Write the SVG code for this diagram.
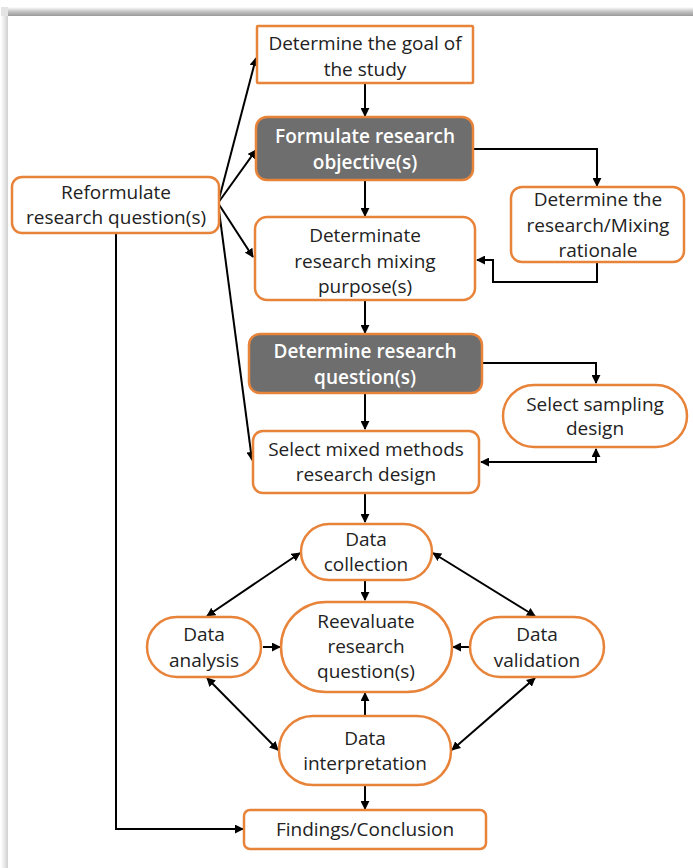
<svg xmlns="http://www.w3.org/2000/svg" width="693" height="868" viewBox="0 0 693 868">
  <style>
    .box { fill: #ffffff; stroke: #E8833A; stroke-width: 2.5; }
    .dark { fill: #6E6E6E; stroke: #E8833A; stroke-width: 2.5; }
    .lbl { font-family: "Open Sans", "Noto Sans", "Liberation Sans", sans-serif; font-size: 19px; fill: #222222; text-anchor: middle; }
    .lbl-w { font-family: "Open Sans", "Noto Sans", "Liberation Sans", sans-serif; font-size: 19px; font-weight: 600; fill: #ffffff; text-anchor: middle; }
    .edge { fill: none; stroke: #000000; stroke-width: 2; }
  </style>
  <defs>
    <marker id="arrow" viewBox="0 0 10 10" refX="9" refY="5" markerWidth="9" markerHeight="9" markerUnits="userSpaceOnUse" orient="auto-start-reverse">
      <path d="M0,0 L10,5 L0,10 z" fill="#000000"/>
    </marker>
    <linearGradient id="shadeTop" x1="0" y1="0" x2="0" y2="1">
      <stop offset="0" stop-color="#ffffff"/>
      <stop offset="0.5" stop-color="#c4c4c4"/>
      <stop offset="1" stop-color="#999999"/>
    </linearGradient>
    <linearGradient id="shadeLeft" x1="0" y1="0" x2="1" y2="0">
      <stop offset="0" stop-color="#ffffff"/>
      <stop offset="1" stop-color="#d0d0d0"/>
    </linearGradient>
  </defs>

  <!-- page background with drop shadow -->
  <rect x="0" y="0" width="693" height="868" fill="#ffffff"/>
  <rect x="8" y="7" width="685" height="9" fill="url(#shadeTop)"/>
  <rect x="1" y="16" width="7" height="852" fill="url(#shadeLeft)"/>
  <rect x="1" y="7" width="7" height="9" fill="#e4e4e4"/>

  <!-- connectors -->
  <g id="connectors">
    <line class="edge" x1="365" y1="84" x2="365" y2="116" marker-end="url(#arrow)"/>
    <polyline class="edge" points="474,149 597,149 597,186" marker-end="url(#arrow)"/>
    <polyline class="edge" points="597,263 597,282 493,282 493,260 477,260" marker-end="url(#arrow)"/>
    <line class="edge" x1="365" y1="181" x2="365" y2="216" marker-end="url(#arrow)"/>
    <line class="edge" x1="365" y1="301" x2="365" y2="333" marker-end="url(#arrow)"/>
    <polyline class="edge" points="483,363 596,363 596,383" marker-end="url(#arrow)"/>
    <polyline class="edge" points="481,462 596,462 596,449" marker-start="url(#arrow)" marker-end="url(#arrow)"/>
    <line class="edge" x1="365" y1="394" x2="365" y2="429" marker-end="url(#arrow)"/>
    <line class="edge" x1="365" y1="494" x2="365" y2="522" marker-end="url(#arrow)"/>
    <line class="edge" x1="365" y1="581" x2="365" y2="600" marker-end="url(#arrow)"/>
    <line class="edge" x1="300" y1="553" x2="207" y2="616" marker-start="url(#arrow)" marker-end="url(#arrow)"/>
    <line class="edge" x1="433" y1="553" x2="535" y2="616" marker-start="url(#arrow)" marker-end="url(#arrow)"/>
    <line class="edge" x1="263" y1="647" x2="280" y2="647" marker-end="url(#arrow)"/>
    <line class="edge" x1="469" y1="647" x2="453" y2="647" marker-end="url(#arrow)"/>
    <line class="edge" x1="365" y1="715" x2="365" y2="693" marker-end="url(#arrow)"/>
    <line class="edge" x1="207" y1="678" x2="278" y2="750" marker-start="url(#arrow)" marker-end="url(#arrow)"/>
    <line class="edge" x1="535" y1="678" x2="452" y2="750" marker-start="url(#arrow)" marker-end="url(#arrow)"/>
    <line class="edge" x1="365" y1="786" x2="365" y2="809" marker-end="url(#arrow)"/>
    <polyline class="edge" points="116,234 116,829 243,829" marker-end="url(#arrow)"/>
    <line class="edge" x1="218" y1="203" x2="256" y2="58" marker-end="url(#arrow)"/>
    <line class="edge" x1="218" y1="203" x2="256" y2="150" marker-end="url(#arrow)"/>
    <line class="edge" x1="218" y1="203" x2="253" y2="257" marker-end="url(#arrow)"/>
    <line class="edge" x1="218" y1="203" x2="252" y2="460" marker-end="url(#arrow)"/>
  </g>

  <!-- nodes -->
  <g id="goal">
    <rect class="box" x="257" y="26" width="216" height="57" rx="1"/>
    <text class="lbl" x="365" y="50">Determine the goal of</text>
    <text class="lbl" x="365" y="76">the study</text>
  </g>
  <g id="objectives">
    <rect class="dark" x="256" y="117" width="217" height="63" rx="11"/>
    <text class="lbl-w" x="365" y="143">Formulate research</text>
    <text class="lbl-w" x="365" y="169">objective(s)</text>
  </g>
  <g id="reformulate">
    <rect class="box" x="12" y="177" width="207" height="56" rx="10"/>
    <text class="lbl" x="116" y="199">Reformulate</text>
    <text class="lbl" x="116" y="224">research question(s)</text>
  </g>
  <g id="rationale">
    <rect class="box" x="511" y="187" width="173" height="75" rx="11"/>
    <text class="lbl" x="598" y="206">Determine the</text>
    <text class="lbl" x="598" y="232">research/Mixing</text>
    <text class="lbl" x="598" y="257">rationale</text>
  </g>
  <g id="purpose">
    <rect class="box" x="255" y="217" width="220" height="83" rx="12"/>
    <text class="lbl" x="365" y="242">Determinate</text>
    <text class="lbl" x="365" y="268">research mixing</text>
    <text class="lbl" x="365" y="293">purpose(s)</text>
  </g>
  <g id="questions">
    <rect class="dark" x="249" y="334" width="233" height="59" rx="11"/>
    <text class="lbl-w" x="365" y="358">Determine research</text>
    <text class="lbl-w" x="365" y="384">question(s)</text>
  </g>
  <g id="sampling">
    <rect class="box" x="503" y="385" width="184" height="62" rx="31"/>
    <text class="lbl" x="595" y="411">Select sampling</text>
    <text class="lbl" x="595" y="435">design</text>
  </g>
  <g id="design">
    <rect class="box" x="253" y="431" width="226" height="62" rx="10"/>
    <text class="lbl" x="366" y="456">Select mixed methods</text>
    <text class="lbl" x="366" y="481">research design</text>
  </g>
  <g id="collection">
    <rect class="box" x="301" y="524" width="131" height="56" rx="28"/>
    <text class="lbl" x="366" y="546">Data</text>
    <text class="lbl" x="366" y="571">collection</text>
  </g>
  <g id="analysis">
    <rect class="box" x="147" y="617" width="114" height="60" rx="30"/>
    <text class="lbl" x="204" y="641">Data</text>
    <text class="lbl" x="204" y="667">analysis</text>
  </g>
  <g id="reevaluate">
    <rect class="box" x="281" y="602" width="171" height="90" rx="45"/>
    <text class="lbl" x="366" y="628">Reevaluate</text>
    <text class="lbl" x="366" y="653">research</text>
    <text class="lbl" x="366" y="678">question(s)</text>
  </g>
  <g id="validation">
    <rect class="box" x="470" y="617" width="134" height="60" rx="30"/>
    <text class="lbl" x="537" y="641">Data</text>
    <text class="lbl" x="537" y="667">validation</text>
  </g>
  <g id="interpretation">
    <rect class="box" x="279" y="716" width="172" height="69" rx="34"/>
    <text class="lbl" x="365" y="745">Data</text>
    <text class="lbl" x="365" y="770">interpretation</text>
  </g>
  <g id="findings">
    <rect class="box" x="244" y="810" width="242" height="39" rx="6"/>
    <text class="lbl" x="365" y="836">Findings/Conclusion</text>
  </g>
</svg>
